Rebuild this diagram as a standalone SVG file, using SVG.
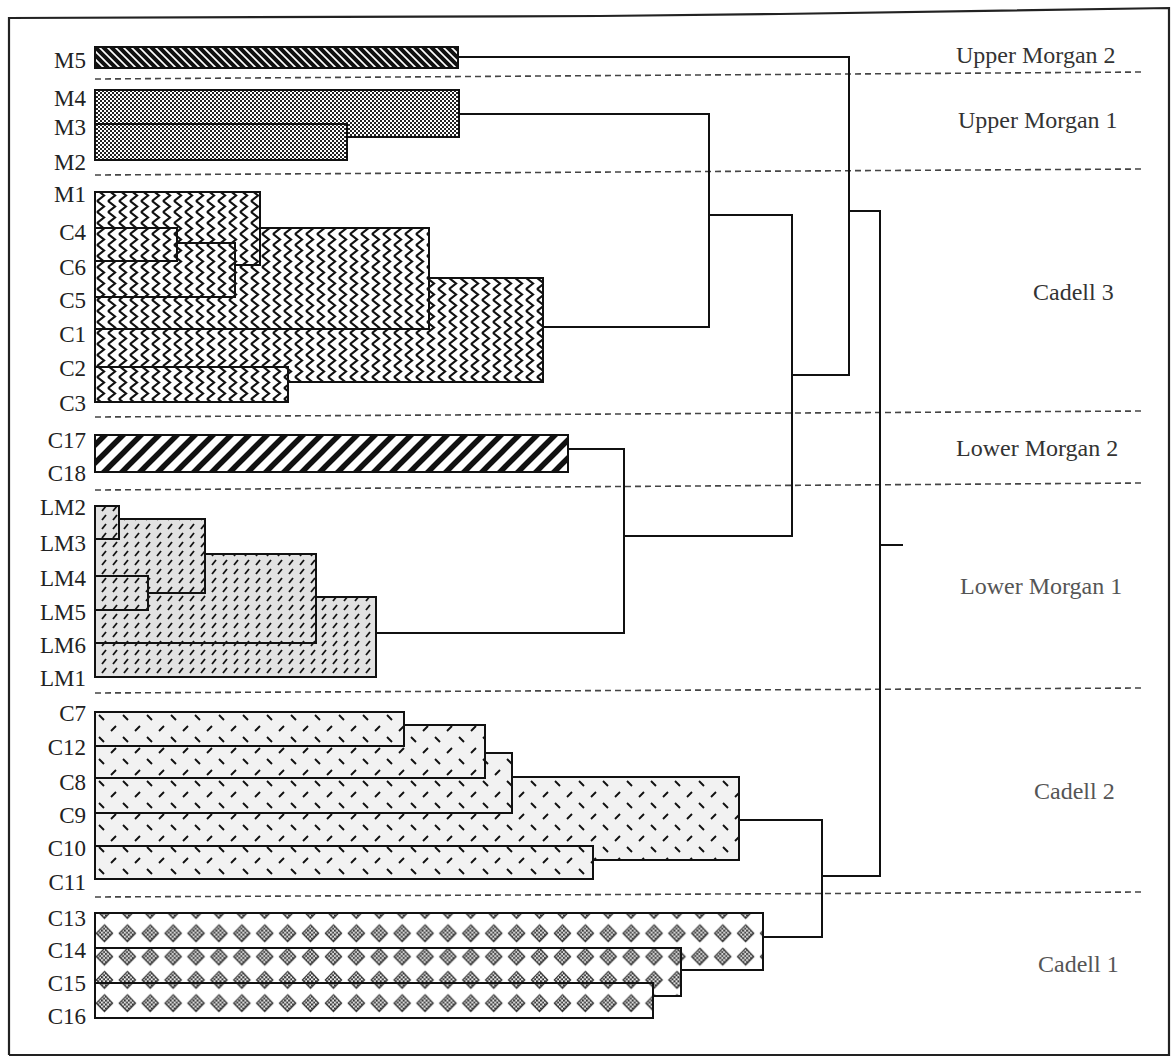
<svg xmlns="http://www.w3.org/2000/svg" width="1173" height="1064" viewBox="0 0 1173 1064">
<style>
.bar{stroke:#111;stroke-width:2}
.con{fill:none;stroke:#111;stroke-width:2}
.sep{stroke:#444;stroke-width:1.6;stroke-dasharray:6 4}
.lab{font-family:"Liberation Serif","Times New Roman",serif;font-size:23px;fill:#222;text-anchor:end}
.zone{font-family:"Liberation Serif","Times New Roman",serif;font-size:24px;fill:#333}
.zone2{font-family:"Liberation Serif","Times New Roman",serif;font-size:24px;fill:#555}
</style>
<defs>
<pattern id="pCheck" width="4" height="4" patternUnits="userSpaceOnUse">
<rect width="4" height="4" fill="#fff"/>
<rect width="2" height="2" fill="#222"/>
<rect x="2" y="2" width="2" height="2" fill="#222"/>
</pattern>
<pattern id="pM5" width="8" height="8" patternUnits="userSpaceOnUse">
<rect width="8" height="8" fill="#fff"/>
<path d="M-2,-2 L10,10 M-2,6 L2,10 M6,-2 L10,2" stroke="#111" stroke-width="4"/>
</pattern>
<pattern id="pZig" x="95" y="190" width="11" height="11" patternUnits="userSpaceOnUse">
<rect width="11" height="11" fill="#fff"/>
<path d="M2,0 L9,5.5 L2,11" fill="none" stroke="#111" stroke-width="2.2"/>
</pattern>
<pattern id="pLM2" width="18" height="18" patternUnits="userSpaceOnUse">
<rect width="18" height="18" fill="#fff"/>
<path d="M0,18 L18,0 M-9,9 L9,-9 M9,27 L27,9" stroke="#111" stroke-width="5.5"/>
</pattern>
<pattern id="pLM" width="11" height="9" patternUnits="userSpaceOnUse">
<rect width="11" height="9" fill="#e2e2e2"/>
<path d="M3,7 L7,2" stroke="#111" stroke-width="1.8"/>
</pattern>
<pattern id="pC2" x="95" y="712" width="24" height="22" patternUnits="userSpaceOnUse">
<rect width="24" height="22" fill="#f2f2f2"/>
<path d="M4,3 L9,8 M16,19 L21,14" stroke="#111" stroke-width="1.9" fill="none"/>
</pattern>
<pattern id="pC1" x="93" y="921.7" width="22.9" height="23.3" patternUnits="userSpaceOnUse">
<rect width="22.9" height="23.3" fill="#fff"/>
<path d="M11.45,3.2 L19.6,11.65 L11.45,20.1 L3.3,11.65 Z" fill="url(#pCheck)" stroke="#333" stroke-width="1.2"/>
</pattern>
</defs>

<g id="frame">
<polyline points="9,1055 9,18 600,16 780,14 1169,8 1169,1055 9,1055" fill="none" stroke="#222" stroke-width="2.2"/>
</g>

<g id="separators">
<line class="sep" x1="95" y1="79" x2="1145" y2="72"/>
<line class="sep" x1="95" y1="175" x2="1145" y2="169"/>
<line class="sep" x1="95" y1="417" x2="1145" y2="411"/>
<line class="sep" x1="95" y1="490" x2="1145" y2="483"/>
<line class="sep" x1="95" y1="693" x2="1145" y2="688"/>
<line class="sep" x1="95" y1="897" x2="1145" y2="892"/>
</g>

<g id="upper-morgan-2">
<rect class="bar" x="95" y="47" width="363" height="21" fill="url(#pM5)"/>
</g>

<g id="upper-morgan-1">
<rect class="bar" x="95" y="90" width="364" height="47" fill="url(#pCheck)"/>
<rect class="bar" x="95" y="124" width="252" height="36" fill="url(#pCheck)"/>
</g>

<g id="cadell-3">
<rect class="bar" x="95" y="278" width="448" height="104" fill="url(#pZig)"/>
<rect class="bar" x="95" y="228" width="334" height="101" fill="url(#pZig)"/>
<rect class="bar" x="95" y="192" width="165" height="73" fill="url(#pZig)"/>
<rect class="bar" x="95" y="243" width="140" height="54" fill="url(#pZig)"/>
<rect class="bar" x="95" y="228" width="82" height="33" fill="url(#pZig)"/>
<rect class="bar" x="95" y="367" width="193" height="35" fill="url(#pZig)"/>
</g>

<g id="lower-morgan-2">
<rect class="bar" x="95" y="435" width="473" height="37" fill="url(#pLM2)"/>
</g>

<g id="lower-morgan-1">
<rect class="bar" x="95" y="597" width="281" height="80" fill="url(#pLM)"/>
<rect class="bar" x="95" y="554" width="221" height="89" fill="url(#pLM)"/>
<rect class="bar" x="95" y="519" width="110" height="74" fill="url(#pLM)"/>
<rect class="bar" x="95" y="576" width="53" height="34" fill="url(#pLM)"/>
<rect class="bar" x="95" y="506" width="24" height="33" fill="url(#pLM)"/>
</g>

<g id="cadell-2">
<rect class="bar" x="95" y="777" width="644" height="83" fill="url(#pC2)"/>
<rect class="bar" x="95" y="753" width="417" height="60" fill="url(#pC2)"/>
<rect class="bar" x="95" y="725" width="390" height="53" fill="url(#pC2)"/>
<rect class="bar" x="95" y="712" width="309" height="34" fill="url(#pC2)"/>
<rect class="bar" x="95" y="846" width="498" height="33" fill="url(#pC2)"/>
</g>

<g id="cadell-1">
<rect class="bar" x="95" y="913" width="668" height="57" fill="url(#pC1)"/>
<rect class="bar" x="95" y="948" width="586" height="48" fill="url(#pC1)"/>
<rect class="bar" x="95" y="983" width="558" height="35" fill="url(#pC1)"/>
</g>

<g id="connectors">
<path class="con" d="M458,57 H849 V375 H792"/>
<path class="con" d="M459,114 H709 V327 H543"/>
<path class="con" d="M709,215 H792 V536 H624"/>
<path class="con" d="M568,449 H624 V633 H376"/>
<path class="con" d="M849,211 H880 V876 H822"/>
<path class="con" d="M880,545 H903"/>
<path class="con" d="M739,820 H822 V937 H763"/>
</g>

<g id="sample-labels">
<text class="lab" x="86" y="68">M5</text>
<text class="lab" x="86" y="106">M4</text>
<text class="lab" x="86" y="135">M3</text>
<text class="lab" x="86" y="170">M2</text>
<text class="lab" x="86" y="202">M1</text>
<text class="lab" x="86" y="240">C4</text>
<text class="lab" x="86" y="275">C6</text>
<text class="lab" x="86" y="308">C5</text>
<text class="lab" x="86" y="342">C1</text>
<text class="lab" x="86" y="376">C2</text>
<text class="lab" x="86" y="411">C3</text>
<text class="lab" x="86" y="448">C17</text>
<text class="lab" x="86" y="481">C18</text>
<text class="lab" x="86" y="515">LM2</text>
<text class="lab" x="86" y="551">LM3</text>
<text class="lab" x="86" y="586">LM4</text>
<text class="lab" x="86" y="620">LM5</text>
<text class="lab" x="86" y="653">LM6</text>
<text class="lab" x="86" y="686">LM1</text>
<text class="lab" x="86" y="721">C7</text>
<text class="lab" x="86" y="755">C12</text>
<text class="lab" x="86" y="790">C8</text>
<text class="lab" x="86" y="823">C9</text>
<text class="lab" x="86" y="856">C10</text>
<text class="lab" x="86" y="890">C11</text>
<text class="lab" x="86" y="926">C13</text>
<text class="lab" x="86" y="958">C14</text>
<text class="lab" x="86" y="991">C15</text>
<text class="lab" x="86" y="1024">C16</text>
</g>

<g id="zone-labels">
<text class="zone" x="956" y="63">Upper Morgan 2</text>
<text class="zone" x="958" y="128">Upper Morgan 1</text>
<text class="zone" x="1033" y="300">Cadell 3</text>
<text class="zone" x="956" y="456">Lower Morgan 2</text>
<text class="zone2" x="960" y="594">Lower Morgan 1</text>
<text class="zone2" x="1034" y="799">Cadell 2</text>
<text class="zone2" x="1038" y="972">Cadell 1</text>
</g>
</svg>
